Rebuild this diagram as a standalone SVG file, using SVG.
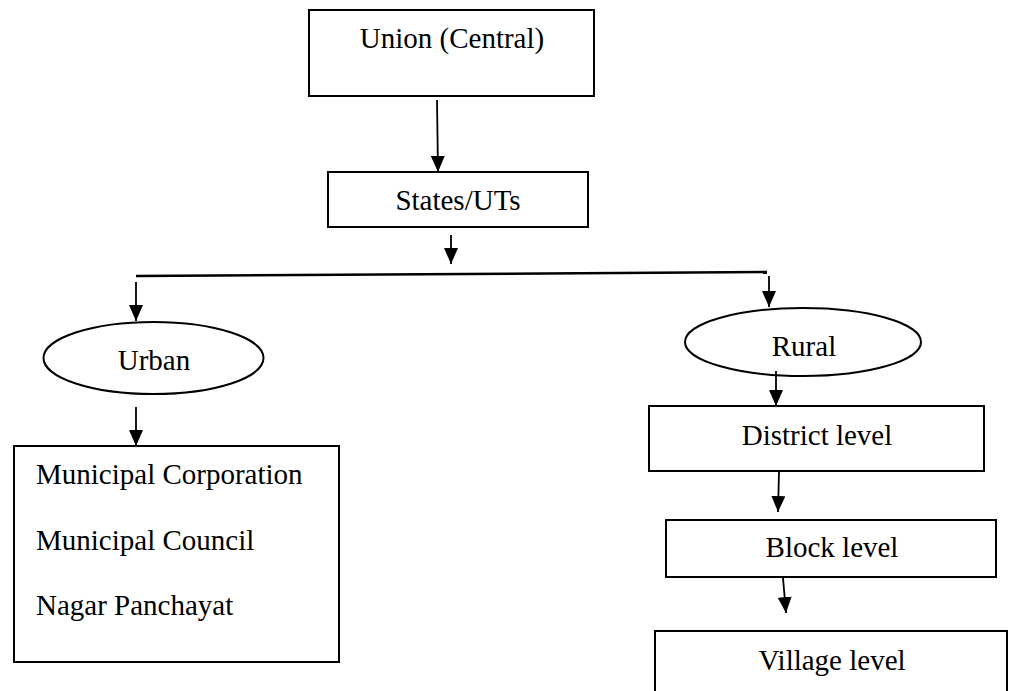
<svg xmlns="http://www.w3.org/2000/svg" width="1009" height="691" viewBox="0 0 1009 691">
<style>
.box{fill:#fff;stroke:#000;stroke-width:2}
.lbl{font-family:"Liberation Serif","Times New Roman",serif;font-size:29px;fill:#000}
.c{text-anchor:middle}
.edge{stroke:#000;stroke-width:1.8;fill:none}
</style>
<defs>
<marker id="ah" markerUnits="userSpaceOnUse" viewBox="0 0 16 14" refX="16" refY="7" markerWidth="16" markerHeight="14" orient="auto">
<path d="M0,0 L16,7 L0,14 z" fill="#000"/>
</marker>
</defs>
<rect width="1009" height="691" fill="#fff"/>
<g id="union"><rect class="box" x="309" y="10" width="285" height="86"/><text class="lbl c" x="452" y="48">Union (Central)</text></g>
<g id="states"><rect class="box" x="328" y="172" width="260" height="55"/><text class="lbl c" x="458" y="210">States/UTs</text></g>
<g id="urban"><ellipse class="box" cx="153.5" cy="358" rx="110" ry="36"/><text class="lbl c" x="154" y="370">Urban</text></g>
<g id="urban-bodies"><rect class="box" x="14" y="446" width="325" height="216"/>
<text class="lbl" x="36" y="484">Municipal Corporation</text>
<text class="lbl" x="36" y="550">Municipal Council</text>
<text class="lbl" x="36" y="615">Nagar Panchayat</text></g>
<g id="rural"><ellipse class="box" cx="803" cy="342" rx="118" ry="34"/><text class="lbl c" x="804" y="356">Rural</text></g>
<g id="district"><rect class="box" x="649" y="406" width="335" height="65"/><text class="lbl c" x="817" y="445">District level</text></g>
<g id="block"><rect class="box" x="666" y="520" width="330" height="57"/><text class="lbl c" x="832" y="557">Block level</text></g>
<g id="village"><rect class="box" x="655" y="631" width="352" height="70"/><text class="lbl c" x="832" y="670">Village level</text></g>
<g id="connectors">
<line class="edge" x1="437" y1="100" x2="438" y2="172" marker-end="url(#ah)"/>
<line class="edge" x1="451" y1="235" x2="451" y2="264" marker-end="url(#ah)"/>
<line class="edge" x1="136" y1="276" x2="767" y2="272" style="stroke-width:2.5"/>
<line class="edge" x1="136" y1="282" x2="136" y2="321" marker-end="url(#ah)"/>
<line class="edge" x1="136" y1="407" x2="136" y2="446" marker-end="url(#ah)"/>
<line class="edge" x1="769" y1="276" x2="769" y2="307" marker-end="url(#ah)"/>
<line class="edge" x1="776" y1="371" x2="776" y2="406" marker-end="url(#ah)"/>
<line class="edge" x1="779" y1="472" x2="778" y2="512" marker-end="url(#ah)"/>
<line class="edge" x1="783" y1="578" x2="786" y2="613" marker-end="url(#ah)"/>
</g>
</svg>
